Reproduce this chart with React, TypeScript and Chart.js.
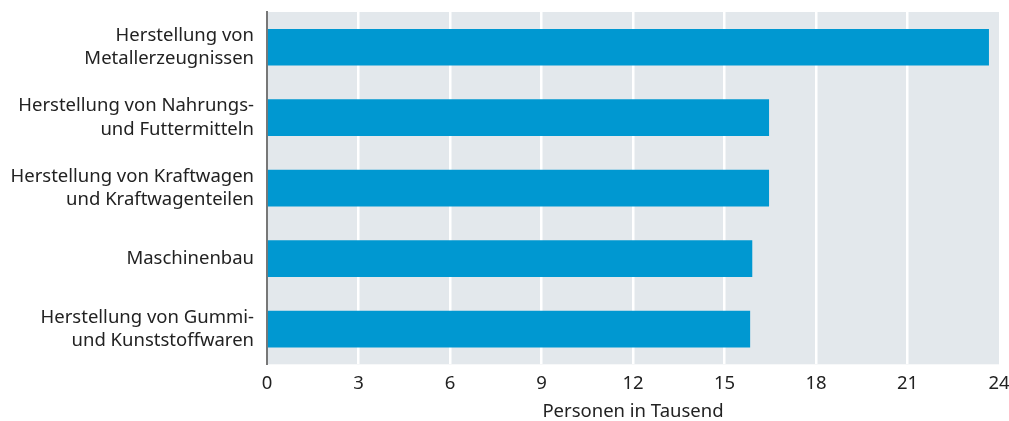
import React, { useEffect, useRef } from "react";
import { Chart, registerables } from "chart.js";

Chart.register(...registerables);

// Branchen (mehrzeilige Beschriftungen) und Beschäftigte in Tausend
const branchen: string[][] = [
  ["Herstellung von", "Metallerzeugnissen"],
  ["Herstellung von Nahrungs-", "und Futtermitteln"],
  ["Herstellung von Kraftwagen", "und Kraftwagenteilen"],
  ["Maschinenbau"],
  ["Herstellung von Gummi-", "und Kunststoffwaren"],
];
const personenTausend: number[] = [23.66, 16.45, 16.45, 15.9, 15.83];
const xTicks: number[] = [0, 3, 6, 9, 12, 15, 18, 21, 24];
const achsenTitel = "Personen in Tausend";

const FONT = "'Source Sans Pro', 'Noto Sans', sans-serif";

// Hintergrund des Diagrammbereichs
const plotBackground = {
  id: "plotBackground",
  beforeDraw(chart: Chart) {
    const { ctx, chartArea } = chart;
    if (!chartArea) return;
    ctx.save();
    ctx.fillStyle = "#e3e8ec";
    ctx.fillRect(
      chartArea.left,
      chartArea.top,
      chartArea.right - chartArea.left,
      chartArea.bottom - chartArea.top
    );
    ctx.restore();
  },
};

export default function App() {
  const canvasRef = useRef<HTMLCanvasElement | null>(null);

  useEffect(() => {
    document.body.style.margin = "0";
    const canvas = canvasRef.current;
    if (!canvas) return;
    const chart = new Chart(canvas, {
      type: "bar",
      data: {
        labels: branchen,
        datasets: [
          {
            data: personenTausend,
            backgroundColor: "#0098d1",
            borderWidth: 0,
            barThickness: 36,
          },
        ],
      },
      options: {
        indexAxis: "y",
        animation: false,
        responsive: false,
        maintainAspectRatio: false,
        layout: { padding: { top: 12, right: 10, bottom: 0, left: 0 } },
        plugins: {
          legend: { display: false },
          tooltip: { enabled: false },
        },
        scales: {
          x: {
            min: 0,
            max: 24,
            afterBuildTicks: (scale: any) => {
              scale.ticks = xTicks.map((v) => ({ value: v }));
            },
            grid: {
              color: (c: any) =>
                c.tick && (c.tick.value === 0 || c.tick.value === 24)
                  ? "rgba(0,0,0,0)"
                  : "#ffffff",
              lineWidth: 2.5,
              drawTicks: false,
            },
            border: { display: false },
            ticks: {
              color: "#222222",
              font: { family: FONT, size: 18.5 },
              padding: 8,
            },
            title: {
              display: true,
              text: achsenTitel,
              color: "#222222",
              font: { family: FONT, size: 18.5, lineHeight: 1 },
              padding: { top: 0, bottom: 0 },
            },
            afterFit: (scale: any) => {
              scale.paddingLeft = 0;
              scale.paddingRight = 0;
            },
          },
          y: {
            grid: { display: false, drawTicks: false },
            border: { display: true, color: "#777777", width: 2 },
            ticks: {
              color: "#222222",
              font: { family: FONT, size: 18.5, lineHeight: 1.25 },
              padding: 13,
            },
            afterFit: (scale: any) => {
              scale.width = 267;
              scale.paddingTop = 0;
              scale.paddingBottom = 0;
            },
          },
        },
      },
      plugins: [plotBackground],
    });
    return () => chart.destroy();
  }, []);

  return (
    <div style={{ width: 1009, height: 421 }}>
      <canvas ref={canvasRef} width={1009} height={421} />
    </div>
  );
}
